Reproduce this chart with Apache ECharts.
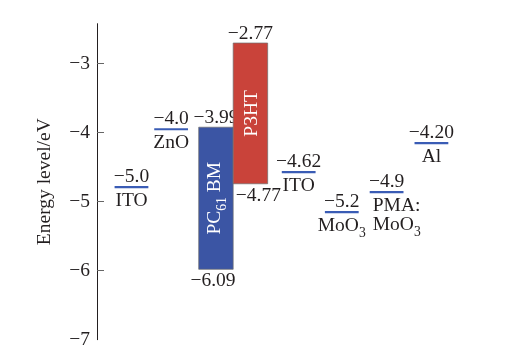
<!DOCTYPE html>
<html>
<head>
<meta charset="utf-8">
<script src="https://cdn.jsdelivr.net/npm/echarts@6/dist/echarts.min.js"></script>
<style>
  html, body { margin: 0; padding: 0; background: #fff; }
  #chart-wrapper { width: 509px; height: 358px; }
</style>
</head>
<body>
<div id="chart-wrapper"></div>
<script>
// energy levels, as placed in the picture (eV)
const levelSlots = [1.0, 2.15, 5.85, 7.1, 8.4, 9.7];
const levelValues = [-4.79, -3.95, -4.57, -5.15, -4.86, -4.15];
const levelLabels = ["−5.0", "−4.0", "−4.62", "−5.2", "−4.9", "−4.20"];
const levelNames = ["ITO", "ZnO", "ITO", "{n|MoO}{s|3}", "{n|PMA:}\n{n|MoO}{s|3}", "Al"];

// HOMO/LUMO bands
const bandSlots = [3.45, 4.45];
const bandTop = [-3.92, -2.70];
const bandBottom = [-5.98, -4.74];
const bandTopLabels = ["−3.99", "−2.77"];
const bandBottomLabels = ["−6.09", "−4.77"];
const bandNames = ["{n|PC}{s|61}{n| BM}", "{n|P3HT}"];
const bandColors = ["#3b55a4", "#c9433a"];

const yTicks = [-7, -6, -5, -4, -3];

const FONT = '"Liberation Serif", "DejaVu Serif", serif';
const FS = 19.5;
const TXT = "#231f20";
const LEVEL_BLUE = "#3a5cb5";

// subscripts: normal text sits at the top of the line box, the index at the bottom
const rich = (size, color) => ({
  n: { fontSize: size, fontFamily: FONT, fill: color, color: color, lineHeight: 19, verticalAlign: "top" },
  s: { fontSize: size * 0.7, fontFamily: FONT, fill: color, color: color, lineHeight: 24, verticalAlign: "bottom" },
});

const renderLevel = (params, api) => {
  const i = params.dataIndex;
  const p0 = api.coord([api.value(0) - 0.49, api.value(1)]);
  const p1 = api.coord([api.value(0) + 0.49, api.value(1)]);
  const cx = (p0[0] + p1[0]) / 2;
  const isPma = levelNames[i].indexOf("PMA") >= 0;
  return {
    type: "group",
    children: [
      {
        type: "line",
        shape: { x1: p0[0], y1: p0[1], x2: p1[0], y2: p1[1] },
        style: { stroke: LEVEL_BLUE, lineWidth: 2.2 },
      },
      {
        type: "text",
        x: cx,
        y: p0[1],
        style: { text: levelLabels[i], font: FS + "px " + FONT, fill: TXT, align: "center", verticalAlign: "bottom" },
      },
      {
        type: "text",
        x: isPma ? p0[0] + 3 : cx,
        y: p0[1] + 4,
        style: {
          text: levelNames[i],
          rich: rich(FS, TXT),
          font: FS + "px " + FONT,
          fill: TXT,
          align: isPma ? "left" : "center",
          verticalAlign: "top",
        },
      },
    ],
  };
};

const renderBand = (params, api) => {
  const i = params.dataIndex;
  const tl = api.coord([api.value(0) - 0.5, api.value(1)]);
  const br = api.coord([api.value(0) + 0.5, api.value(2)]);
  const cx = (tl[0] + br[0]) / 2;
  return {
    type: "group",
    children: [
      {
        type: "rect",
        shape: { x: tl[0], y: tl[1], width: br[0] - tl[0], height: br[1] - tl[1] },
        style: { fill: bandColors[i], stroke: "rgba(110,110,110,0.7)", lineWidth: 1 },
      },
      {
        type: "text",
        x: cx,
        y: tl[1] + 1,
        style: { text: bandTopLabels[i], font: FS + "px " + FONT, fill: TXT, align: "center", verticalAlign: "bottom" },
      },
      {
        type: "text",
        x: cx + (i === 1 ? 8 : -3),
        y: br[1] + 2,
        style: { text: bandBottomLabels[i], font: FS + "px " + FONT, fill: TXT, align: "center", verticalAlign: "top" },
      },
      {
        type: "text",
        x: cx + 1,
        y: (tl[1] + br[1]) / 2,
        rotation: Math.PI / 2,
        style: {
          text: bandNames[i],
          rich: rich(FS, "#fff"),
          font: FS + "px " + FONT,
          fill: "#fff",
          align: "center",
          verticalAlign: "middle",
        },
      },
    ],
  };
};

const chart = echarts.init(document.getElementById("chart-wrapper"));

const option = {
  animation: false,
  backgroundColor: "#fff",
  grid: { left: 97, right: 50, top: 23.7, bottom: 18.3 },
  xAxis: { type: "value", min: 0, max: 10.5, show: false },
  yAxis: {
    type: "value",
    min: -7,
    max: -2.42,
    interval: 1,
    name: "Energy level/eV",
    nameLocation: "middle",
    nameGap: 42,
    nameTextStyle: { fontFamily: FONT, fontSize: FS, color: TXT },
    axisLine: { show: true, lineStyle: { color: "#231f20", width: 1 } },
    axisTick: { show: true, inside: true, length: 7, lineStyle: { color: "#666" }, customValues: [-6, -5, -4, -3] },
    axisLabel: {
      customValues: yTicks,
      margin: 7,
      fontFamily: FONT,
      fontSize: FS,
      color: TXT,
      formatter: (v) => "−" + Math.abs(v),
    },
    splitLine: { show: false },
  },
  series: [
    {
      type: "custom",
      renderItem: renderBand,
      data: bandSlots.map((x, i) => [x, bandTop[i], bandBottom[i]]),
      clip: false,
      z: 2,
    },
    {
      type: "custom",
      renderItem: renderLevel,
      data: levelSlots.map((x, i) => [x, levelValues[i]]),
      clip: false,
      z: 3,
    },
  ],
};

chart.setOption(option);
</script>
</body>
</html>
